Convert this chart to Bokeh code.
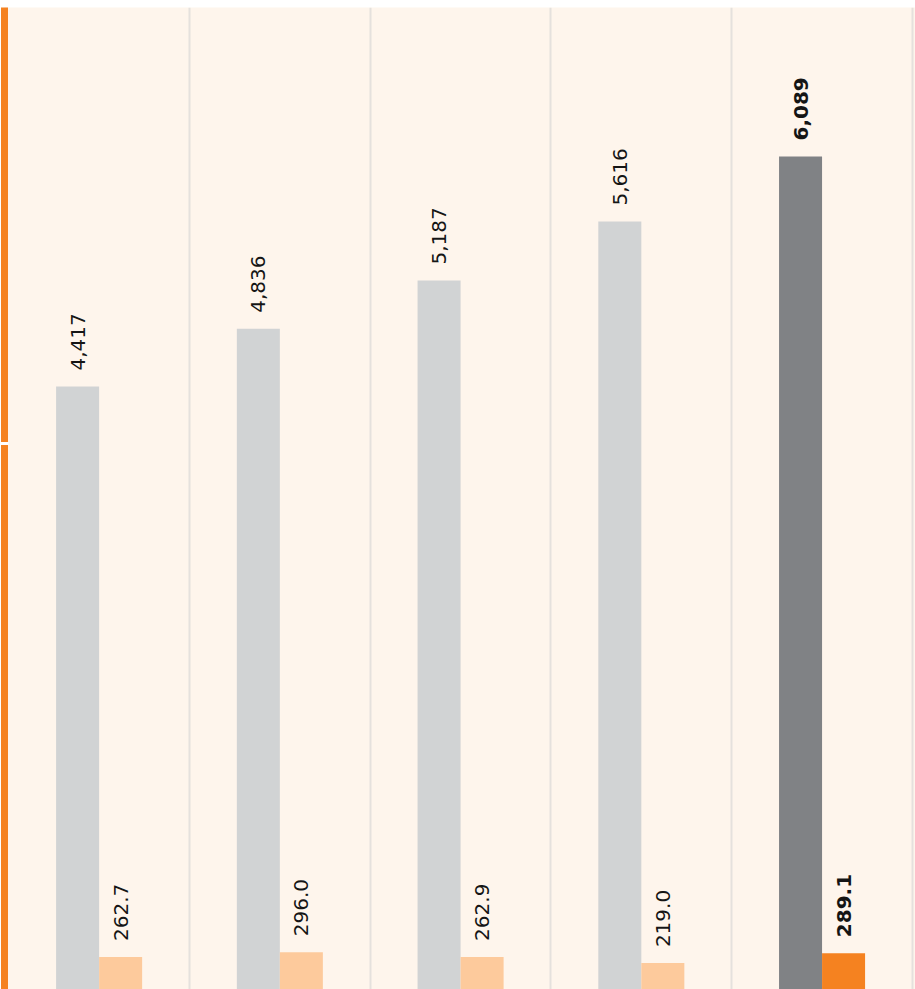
import math
from bokeh.plotting import figure
from bokeh.models import (ColumnDataSource, Range1d, FixedTicker, Grid, LinearAxis)
from bokeh.transform import dodge
from bokeh.core.properties import value
from bokeh.embed import file_html
from bokeh.resources import INLINE

# ---- data ----
periods = ["P1", "P2", "P3", "P4", "P5"]
gray_values = [4417, 4836, 5187, 5616, 6089]
orange_values = [262.7, 296.0, 262.9, 219.0, 289.1]
gray_labels = ["4,417", "4,836", "5,187", "5,616", "6,089"]
orange_labels = ["262.7", "296.0", "262.9", "219.0", "289.1"]
highlight = [False, False, False, False, True]
axis_tick = [4000]

BG = "#FEF5EC"
ORANGE = "#F58220"
LIGHT_ORANGE = "#FDCA9C"
LIGHT_GRAY = "#D1D3D4"
DARK_GRAY = "#808285"
GRID = "#E5E1DD"

xs = list(range(len(periods)))
src = ColumnDataSource(dict(
    x=xs,
    period=periods,
    gray=gray_values,
    orange=orange_values,
    gray_label=gray_labels,
    orange_label=orange_labels,
    gray_color=[DARK_GRAY if h else LIGHT_GRAY for h in highlight],
    orange_color=[ORANGE if h else LIGHT_ORANGE for h in highlight],
    font_style=["bold" if h else "normal" for h in highlight],
))

p = figure(width=915, height=989, output_backend="svg", toolbar_location=None,
           x_range=Range1d(-0.5235, 4.517), y_range=Range1d(33.4, 7172),
           x_axis_location=None, y_axis_location=None,
           background_fill_color=BG, border_fill_color="white",
           min_border_left=4, min_border_right=0, min_border_top=7, min_border_bottom=0,
           outline_line_color=None)
p.extra_y_ranges = {"orange": Range1d(32.5, 6972)}
p.xgrid.visible = False
p.ygrid.visible = False

grid = Grid(dimension=0, ticker=FixedTicker(ticks=[0.5, 1.5, 2.5, 3.5, 4.5]),
            grid_line_color=GRID, grid_line_width=2)
p.add_layout(grid)

# thick orange axis line on the left with a white tick
yax = LinearAxis(ticker=FixedTicker(ticks=axis_tick), axis_line_color=ORANGE,
                 axis_line_width=7, axis_line_cap="butt",
                 major_tick_line_color="white", major_tick_line_width=3,
                 major_tick_out=4, major_tick_in=4, minor_tick_line_color=None,
                 major_label_text_font_size="0px", major_label_standoff=0,
                 major_label_overrides={4000: ""})
p.add_layout(yax, "left")

W = 0.238
p.vbar(x=dodge("x", -W / 2), top="gray", bottom=0, width=W, source=src,
       fill_color="gray_color", line_color=None)
p.vbar(x=dodge("x", W / 2), top="orange", bottom=0, width=W, source=src,
       fill_color="orange_color", line_color=None, y_range_name="orange")

FONT = value("DejaVu Sans")
p.text(x=dodge("x", -W / 2), y="gray", text="gray_label", source=src,
       angle=math.pi / 2, text_align="left", text_baseline="middle",
       y_offset=-16, text_font=FONT, text_font_size="20px",
       text_font_style="font_style", text_color="#151515")
p.text(x=dodge("x", W / 2), y="orange", text="orange_label", source=src,
       angle=math.pi / 2, text_align="left", text_baseline="middle",
       y_offset=-16, text_font=FONT, text_font_size="20px",
       text_font_style="font_style", text_color="#151515",
       y_range_name="orange")

open("out.html", "w").write(file_html(p, INLINE))
